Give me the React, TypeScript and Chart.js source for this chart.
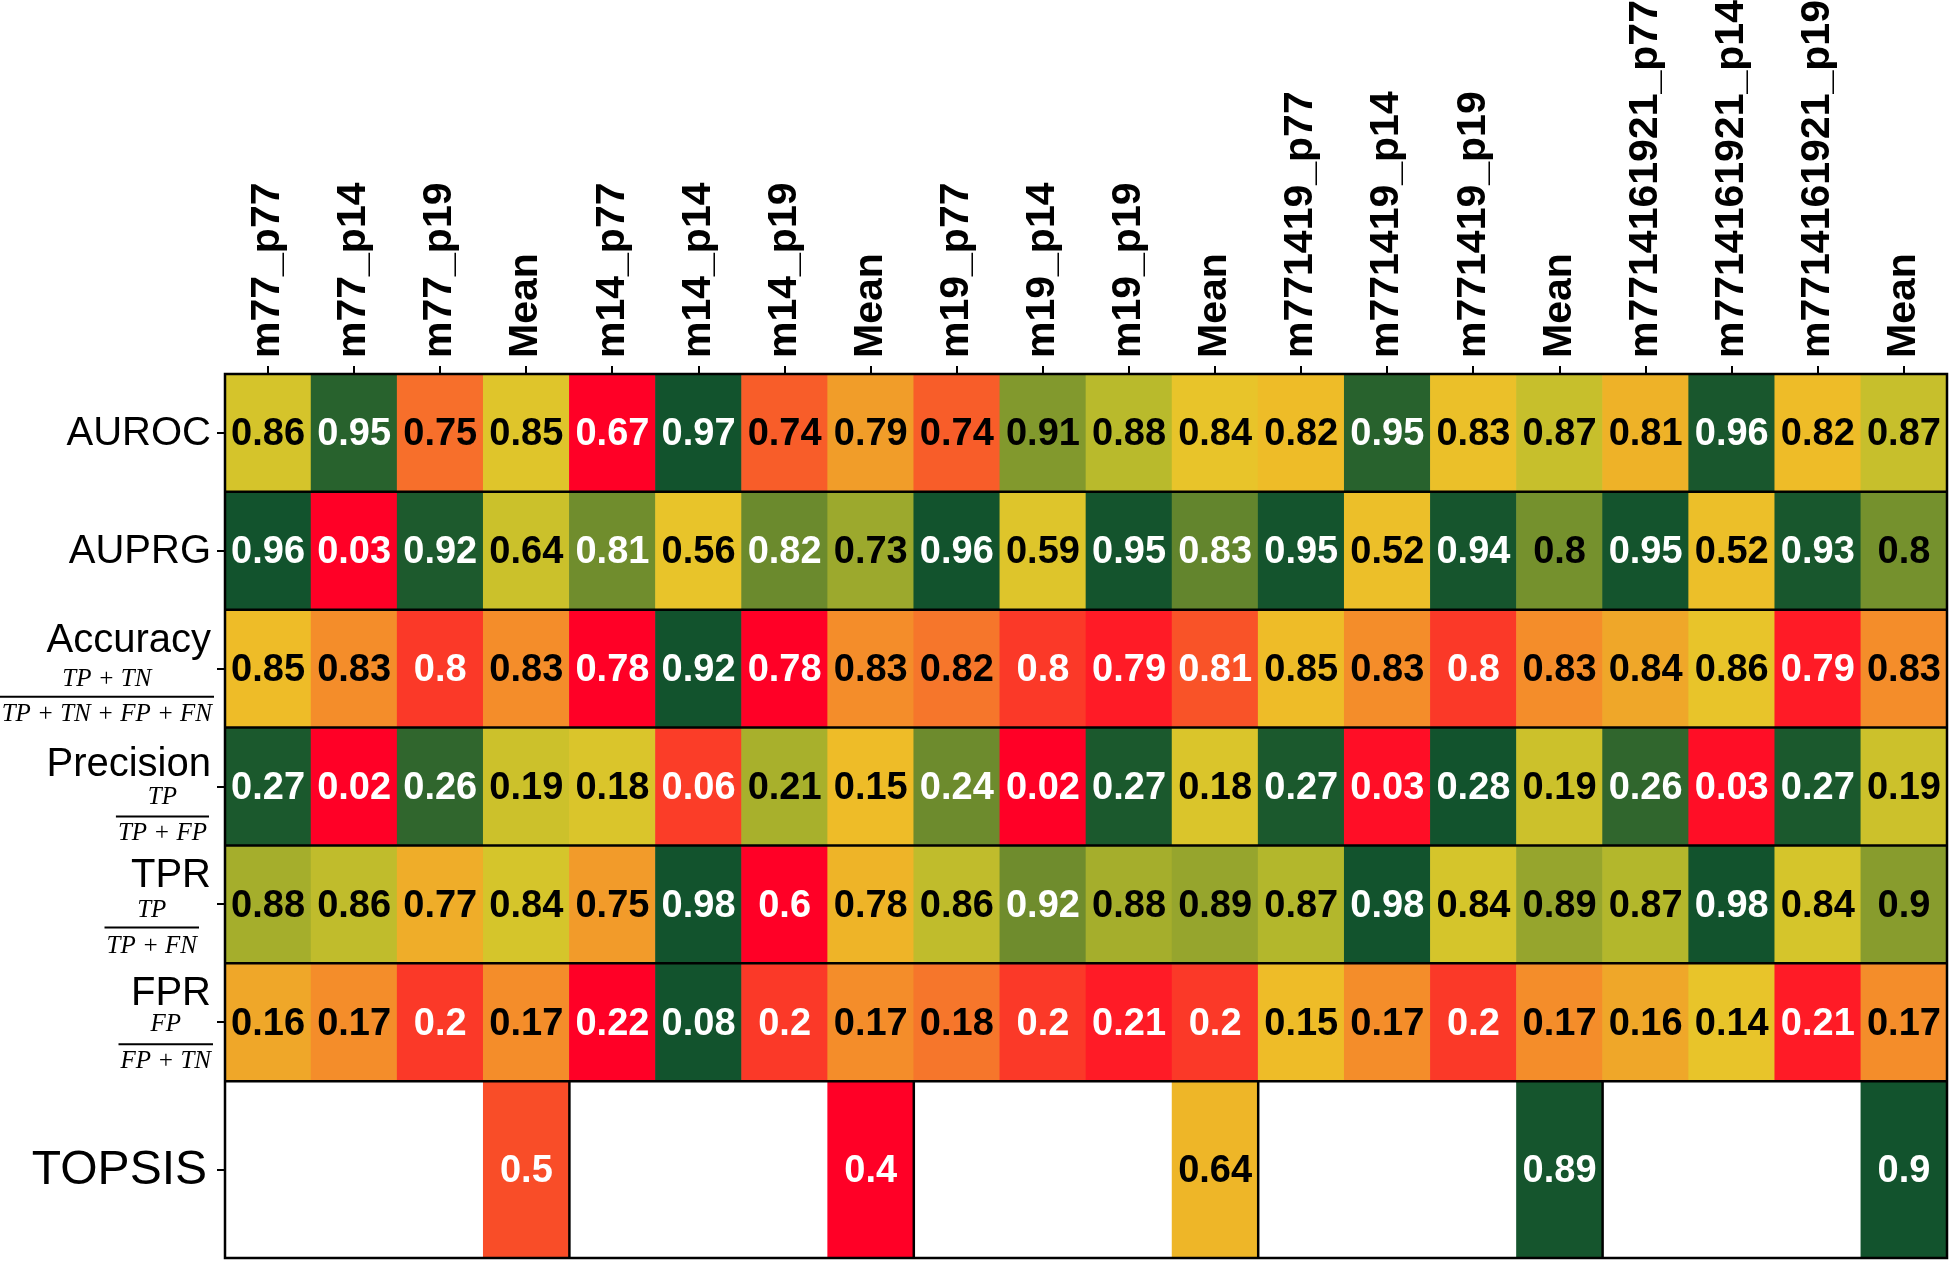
import React, { useEffect, useRef } from 'react';
import { Chart, registerables } from 'chart.js';

Chart.register(...registerables);

const columns = [
  'm77_p77', 'm77_p14', 'm77_p19', 'Mean',
  'm14_p77', 'm14_p14', 'm14_p19', 'Mean',
  'm19_p77', 'm19_p14', 'm19_p19', 'Mean',
  'm771419_p77', 'm771419_p14', 'm771419_p19', 'Mean',
  'm7714161921_p77', 'm7714161921_p14', 'm7714161921_p19', 'Mean',
];

const metricNames = ['AUROC', 'AUPRG', 'Accuracy', 'Precision', 'TPR', 'FPR', 'TOPSIS'];
const formulaNumerators = ['', '', 'TP + TN', 'TP', 'TP', 'FP', ''];
const formulaDenominators = ['', '', 'TP + TN + FP + FN', 'TP + FP', 'TP + FN', 'FP + TN', ''];
const lowerIsBetter = [false, false, false, false, false, true, false];

const auroc = [0.86, 0.95, 0.75, 0.85, 0.67, 0.97, 0.74, 0.79, 0.74, 0.91, 0.88, 0.84, 0.82, 0.95, 0.83, 0.87, 0.81, 0.96, 0.82, 0.87];
const auprg = [0.96, 0.03, 0.92, 0.64, 0.81, 0.56, 0.82, 0.73, 0.96, 0.59, 0.95, 0.83, 0.95, 0.52, 0.94, 0.8, 0.95, 0.52, 0.93, 0.8];
const accuracy = [0.85, 0.83, 0.8, 0.83, 0.78, 0.92, 0.78, 0.83, 0.82, 0.8, 0.79, 0.81, 0.85, 0.83, 0.8, 0.83, 0.84, 0.86, 0.79, 0.83];
const precision = [0.27, 0.02, 0.26, 0.19, 0.18, 0.06, 0.21, 0.15, 0.24, 0.02, 0.27, 0.18, 0.27, 0.03, 0.28, 0.19, 0.26, 0.03, 0.27, 0.19];
const tpr = [0.88, 0.86, 0.77, 0.84, 0.75, 0.98, 0.6, 0.78, 0.86, 0.92, 0.88, 0.89, 0.87, 0.98, 0.84, 0.89, 0.87, 0.98, 0.84, 0.9];
const fpr = [0.16, 0.17, 0.2, 0.17, 0.22, 0.08, 0.2, 0.17, 0.18, 0.2, 0.21, 0.2, 0.15, 0.17, 0.2, 0.17, 0.16, 0.14, 0.21, 0.17];
const topsis: (number | null)[] = [null, null, null, 0.5, null, null, null, 0.4, null, null, null, 0.64, null, null, null, 0.89, null, null, null, 0.9];

const rows: (number | null)[][] = [auroc, auprg, accuracy, precision, tpr, fpr, topsis];

// row boundaries in axis units (TOPSIS row is 1.5x taller)
const rowBounds = [0, 1, 2, 3, 4, 5, 6, 7.5];

// colour scale: red (worst) -> yellow -> dark green (best)
const colorStops: [number, string][] = [
  [0, '#FF0026'], [0.07, '#FF1A26'], [0.14, '#FB3828'], [0.21, '#F95128'],
  [0.27, '#F7712B'], [0.36, '#F48E2A'], [0.43, '#EFA829'], [0.5, '#EEBC28'],
  [0.57, '#E8C42A'], [0.63, '#D6C52B'], [0.7, '#B9BA2C'], [0.8, '#82992D'],
  [0.85, '#6B8A2D'], [0.93, '#2A632D'], [0.97, '#17562D'], [1, '#12532D'],
];

function hexToRgb(h: string) {
  return [parseInt(h.slice(1, 3), 16), parseInt(h.slice(3, 5), 16), parseInt(h.slice(5, 7), 16)];
}

function colorAt(t: number) {
  t = Math.max(0, Math.min(1, t));
  for (let k = 0; k < colorStops.length - 1; k++) {
    const [t0, c0] = colorStops[k];
    const [t1, c1] = colorStops[k + 1];
    if (t >= t0 && t <= t1) {
      const f = (t - t0) / (t1 - t0 || 1);
      const a = hexToRgb(c0), b = hexToRgb(c1);
      const r = a.map((v, i) => Math.round(v + (b[i] - v) * f));
      return `rgb(${r[0]},${r[1]},${r[2]})`;
    }
  }
  return colorStops[colorStops.length - 1][1];
}

const norms: (number | null)[][] = rows.map((vals, j) => {
  const present = vals.filter((v) => v != null) as number[];
  const mn = Math.min(...present), mx = Math.max(...present);
  return vals.map((v) => {
    if (v == null) return null;
    const t = (v - mn) / (mx - mn);
    return lowerIsBetter[j] ? 1 - t : t;
  });
});

// label layout (px offsets from row top / chart-area left)
const labelLayout = [
  null,
  null,
  { name: 31, num: 70, line: 87, den: 105, right: 11 },
  { name: 37, num: 70, line: 89, den: 106, right: 16 },
  { name: 31, num: 65, line: 82, den: 101, right: 26 },
  { name: 31, num: 61, line: 81, den: 98, right: 12 },
  null,
];

const heatPlugin = {
  id: 'heatDecor',
  afterDatasetsDraw(chart: any) {
    const ctx: CanvasRenderingContext2D = chart.ctx;
    const xs = chart.scales.x, ys = chart.scales.y;
    const area = chart.chartArea;
    ctx.save();
    ctx.font = 'bold 38px "Liberation Sans", Arial, sans-serif';
    ctx.textAlign = 'center';
    ctx.textBaseline = 'middle';
    chart.data.datasets.forEach((_ds: any, di: number) => {
      const meta = chart.getDatasetMeta(di);
      meta.data.forEach((el: any, i: number) => {
        const v = rows[di][i];
        if (v == null) return;
        const t = norms[di][i] as number;
        ctx.fillStyle = t < 0.22 || t > 0.835 ? '#FFFFFF' : '#000000';
        ctx.fillText(String(v), el.x, (el.y + el.base) / 2 + 2);
      });
    });
    ctx.strokeStyle = '#000';
    ctx.lineWidth = 2.5;
    const line = (x1: number, y1: number, x2: number, y2: number) => {
      ctx.beginPath();
      ctx.moveTo(x1, y1);
      ctx.lineTo(x2, y2);
      ctx.stroke();
    };
    for (let k = 1; k < rowBounds.length - 1; k++) {
      const py = ys.getPixelForValue(rowBounds[k]);
      line(area.left, py, area.right, py);
    }
    const topY = ys.getPixelForValue(rowBounds[6]);
    for (let i = 3; i < columns.length - 1; i += 4) {
      const px = (xs.getPixelForValue(i) + xs.getPixelForValue(i + 1)) / 2;
      line(px, topY, px, area.bottom);
    }
    ctx.strokeRect(area.left, area.top, area.right - area.left, area.bottom - area.top);
    ctx.restore();
  },
  afterDraw(chart: any) {
    const ctx: CanvasRenderingContext2D = chart.ctx;
    const ys = chart.scales.y;
    const area = chart.chartArea;
    ctx.save();
    ctx.fillStyle = '#000';
    ctx.strokeStyle = '#000';
    metricNames.forEach((name, j) => {
      const top = ys.getPixelForValue(rowBounds[j]);
      const bot = ys.getPixelForValue(rowBounds[j + 1]);
      const lay = labelLayout[j];
      ctx.textBaseline = 'middle';
      if (!lay) {
        const isBig = j === 6;
        ctx.font = `${isBig ? 48 : 40}px "Liberation Sans", Arial, sans-serif`;
        ctx.textAlign = 'right';
        ctx.fillText(name, area.left - (isBig ? 18 : 14), (top + bot) / 2 + 1);
        return;
      }
      ctx.font = '40px "Liberation Sans", Arial, sans-serif';
      ctx.textAlign = 'right';
      ctx.fillText(name, area.left - 14, top + lay.name);
      ctx.font = 'italic 25px "Liberation Serif", "Times New Roman", serif';
      const den = formulaDenominators[j];
      const num = formulaNumerators[j];
      const w = ctx.measureText(den).width + 4;
      const right = area.left - lay.right;
      const cx = right - w / 2;
      ctx.textAlign = 'center';
      ctx.fillText(num, cx, top + lay.num);
      ctx.fillText(den, cx, top + lay.den);
      ctx.lineWidth = 2;
      ctx.beginPath();
      ctx.moveTo(right - w, top + lay.line);
      ctx.lineTo(right, top + lay.line);
      ctx.stroke();
    });
    ctx.restore();
  },
};

export default function App() {
  const canvasRef = useRef<HTMLCanvasElement | null>(null);

  useEffect(() => {
    if (!canvasRef.current) return;
    Chart.defaults.font.family = '"Liberation Sans", Arial, sans-serif';
    const datasets = rows.map((vals, j) => ({
      label: metricNames[j],
      data: vals.map((v) => (v == null ? null : [rowBounds[j], rowBounds[j + 1]])),
      backgroundColor: vals.map((v, i) => (v == null ? 'rgba(0,0,0,0)' : colorAt(norms[j][i] as number))),
      borderWidth: 0,
      barPercentage: 1,
      categoryPercentage: 1,
      grouped: false,
    }));
    const chart = new Chart(canvasRef.current, {
      type: 'bar',
      data: { labels: columns, datasets: datasets as any },
      options: {
        animation: false,
        responsive: false,
        maintainAspectRatio: false,
        layout: { padding: { left: 0, right: 2, top: 0, bottom: 3 } },
        plugins: { legend: { display: false }, tooltip: { enabled: false } },
        scales: {
          x: {
            type: 'category',
            position: 'top',
            offset: true,
            grid: { offset: false, drawOnChartArea: false, drawTicks: true, tickLength: 8, color: '#000', lineWidth: 2 },
            border: { display: false },
            ticks: {
              autoSkip: false,
              minRotation: 90,
              maxRotation: 90,
              padding: 8,
              labelOffset: 49,
              color: '#000',
              font: { size: 41, weight: 'bold', family: '"Liberation Sans", Arial, sans-serif' },
            },
            afterFit: (scale: any) => { scale.height = 374; },
          },
          y: {
            type: 'linear',
            reverse: true,
            min: 0,
            max: 7.5,
            grid: { drawOnChartArea: false, drawTicks: true, tickLength: 8, color: '#000', lineWidth: 2 },
            border: { display: false },
            ticks: { display: false },
            afterBuildTicks: (scale: any) => {
              scale.ticks = rowBounds.slice(0, -1).map((b, k) => ({ value: (b + rowBounds[k + 1]) / 2 }));
            },
            afterFit: (scale: any) => { scale.width = 225; },
          },
        },
      } as any,
      plugins: [heatPlugin],
    });
    return () => chart.destroy();
  }, []);

  return (
    <div style={{ position: 'fixed', left: 0, top: 0, width: 1949, height: 1261, background: '#fff' }}>
      <canvas ref={canvasRef} width={1949} height={1261} style={{ width: 1949, height: 1261, display: 'block' }} />
    </div>
  );
}
